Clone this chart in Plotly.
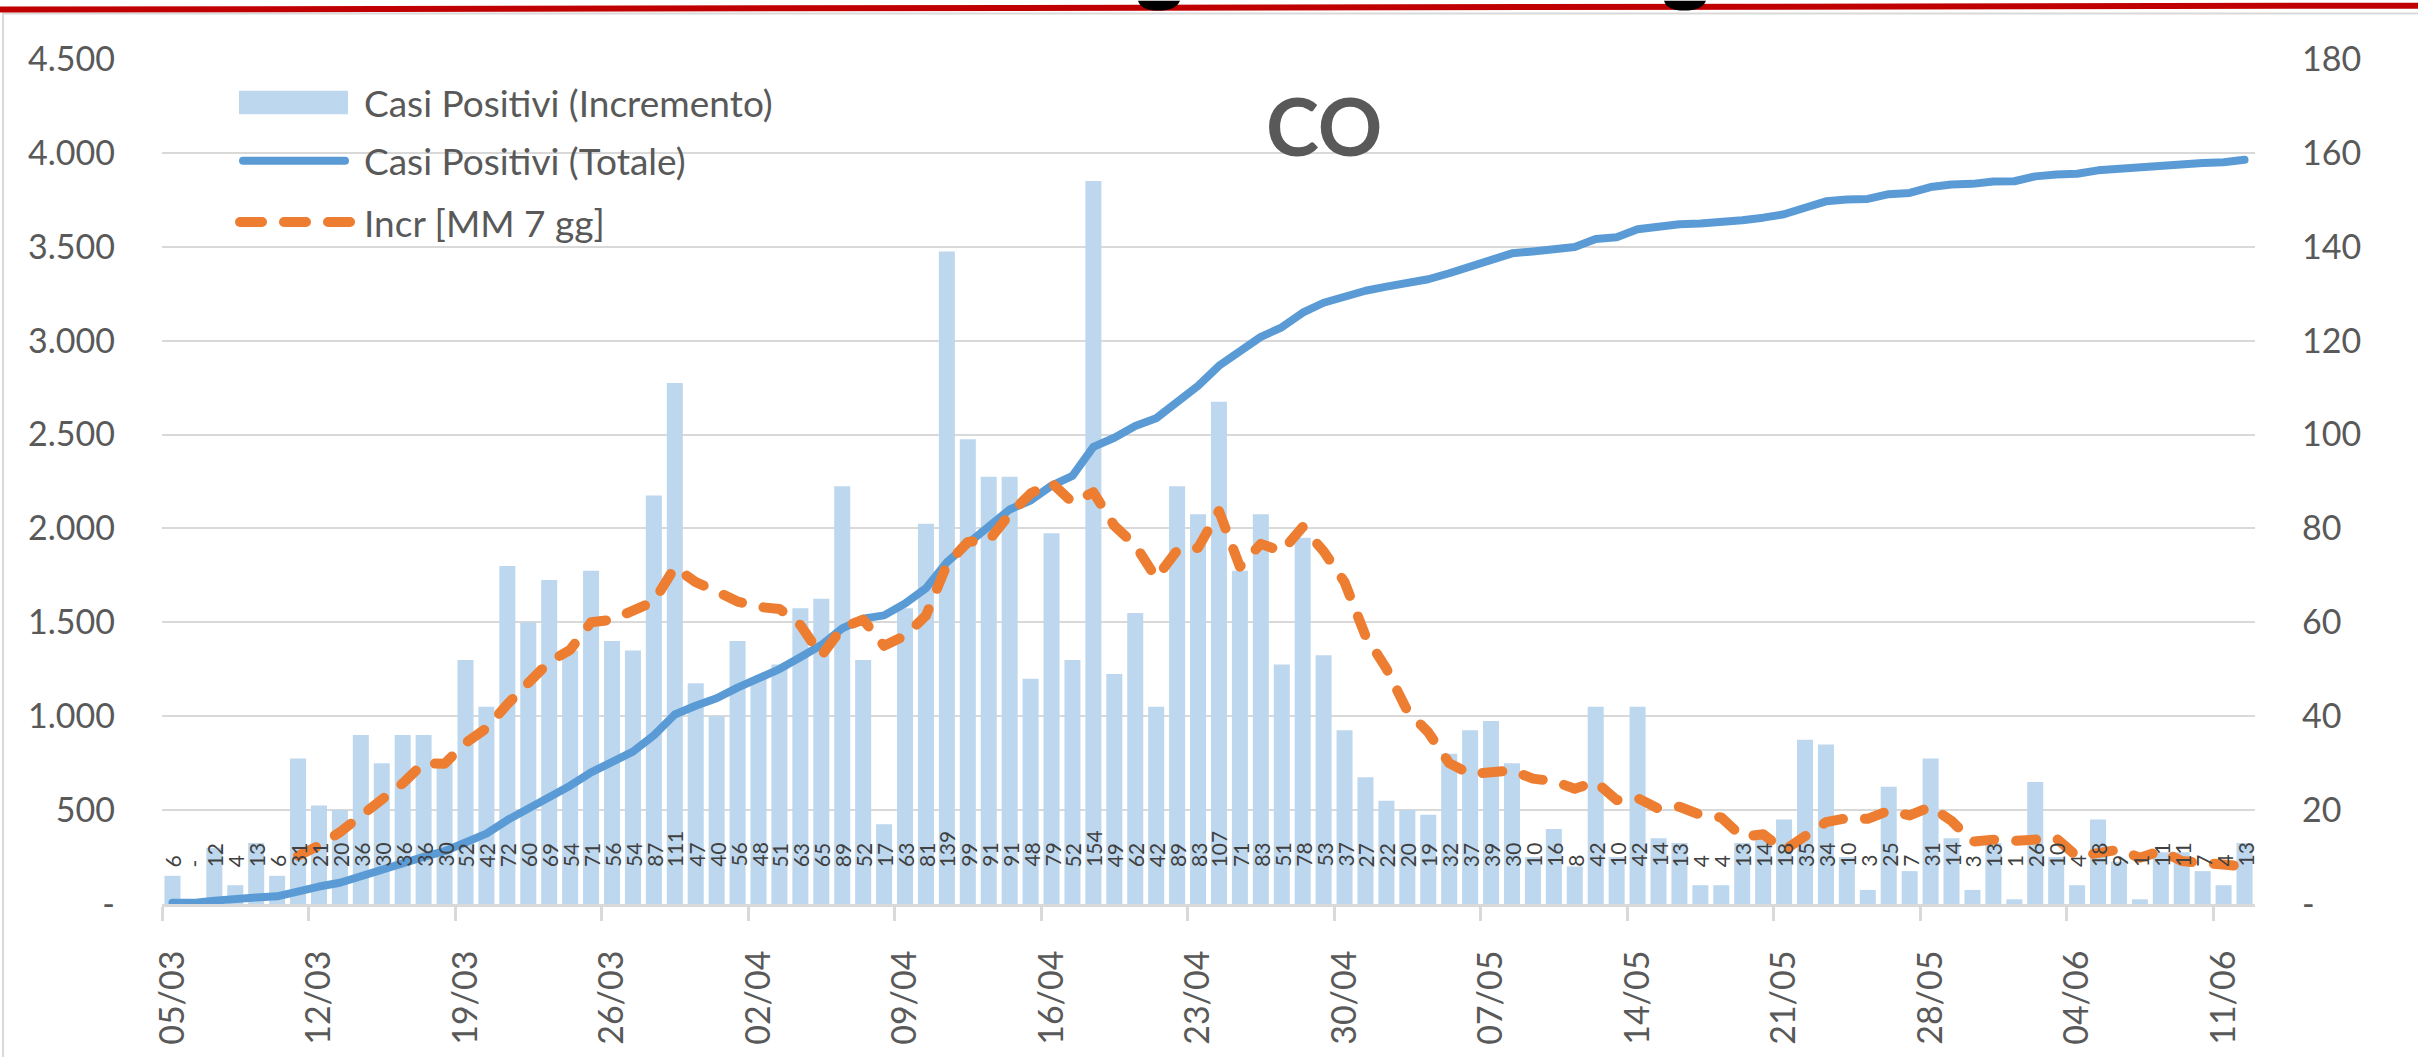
import pandas as pd
import plotly.graph_objects as go

# ---- data -------------------------------------------------------------
dates = pd.date_range("2020-03-05", periods=100, freq="D")
day_labels = [d.strftime("%d/%m") for d in dates]

# daily increase of positive cases (right axis)
incremento = [
    6, 0, 12, 4, 13, 6, 31, 21, 20, 36,
    30, 36, 36, 30, 52, 42, 72, 60, 69, 54,
    71, 56, 54, 87, 111, 47, 40, 56, 48, 51,
    63, 65, 89, 52, 17, 63, 81, 139, 99, 91,
    91, 48, 79, 52, 154, 49, 62, 42, 89, 83,
    107, 71, 83, 51, 78, 53, 37, 27, 22, 20,
    19, 32, 37, 39, 30, 10, 16, 8, 42, 10,
    42, 14, 13, 4, 4, 13, 14, 18, 35, 34,
    10, 3, 25, 7, 31, 14, 3, 13, 1, 26,
    10, 4, 18, 9, 1, 11, 11, 7, 4, 13,
]

# total positive cases (left axis)
totale = [
    6, 6, 18, 22, 35, 41, 72, 93, 113, 149,
    179, 215, 251, 281, 333, 375, 447, 507, 576, 630,
    701, 757, 811, 898, 1009, 1056, 1096, 1152, 1200, 1251,
    1314, 1379, 1468, 1520, 1537, 1600, 1681, 1820, 1919, 2010,
    2101, 2149, 2228, 2280, 2434, 2483, 2545, 2587, 2676, 2759,
    2866, 2937, 3020, 3071, 3149, 3202, 3239, 3266, 3288, 3308,
    3327, 3359, 3396, 3435, 3465, 3475, 3491, 3499, 3541, 3551,
    3593, 3607, 3620, 3624, 3628, 3641, 3655, 3673, 3708, 3742,
    3752, 3755, 3780, 3787, 3818, 3832, 3835, 3848, 3849, 3875,
    3885, 3889, 3907, 3916, 3917, 3928, 3939, 3946, 3950, 3963,
]

# 7-day moving average of the daily increase (right axis)
mm7 = [
    None, None, None, None, None, None, 10.29, 12.43, 15.29, 18.71,
    22.43, 25.71, 30.00, 29.86, 34.29, 37.43, 42.57, 46.86, 51.57, 54.14,
    60.00, 60.57, 62.29, 64.43, 71.71, 68.57, 66.57, 64.43, 63.29, 62.86,
    59.43, 52.86, 58.86, 60.57, 55.00, 57.14, 61.43, 72.29, 77.14, 77.43,
    83.00, 87.43, 89.71, 85.57, 87.71, 80.57, 76.43, 69.43, 75.29, 75.86,
    83.71, 71.86, 76.71, 75.14, 80.29, 75.14, 68.57, 57.14, 50.14, 41.14,
    36.57, 30.00, 27.71, 28.00, 28.43, 26.71, 26.14, 24.57, 26.00, 22.14,
    22.57, 20.29, 20.71, 19.00, 18.43, 14.29, 14.86, 11.43, 14.43, 17.43,
    18.29, 18.14, 19.86, 18.86, 20.71, 17.71, 13.29, 13.71, 13.43, 13.57,
    14.00, 10.14, 10.71, 11.57, 9.86, 11.29, 9.14, 8.71, 8.71, 8.00,
]

left_ticks = [0, 500, 1000, 1500, 2000, 2500, 3000, 3500, 4000, 4500]
left_ticktext = ["-", "500", "1.000", "1.500", "2.000", "2.500",
                 "3.000", "3.500", "4.000", "4.500"]
right_ticks = [0, 20, 40, 60, 80, 100, 120, 140, 160, 180]
right_ticktext = ["-", "20", "40", "60", "80", "100", "120", "140", "160", "180"]

series_names = ["Casi Positivi (Incremento)", "Casi Positivi (Totale)", "Incr [MM 7 gg]"]
chart_title = "CO"

# ---- styling ------------------------------------------------------------
W, H = 2418, 1057
ML, MR, MT, MB = 162, 163, 59, 143
PW, PH = W - ML - MR, H - MT - MB

FONT = "Lato"
TXT = "#595959"
BAR_C = "#BDD7EE"
TOT_C = "#5B9BD5"
MM_C = "#ED7D31"
GRID_C = "#D9D9D9"


def px(x):
    """canvas pixel x -> paper coordinate"""
    return (x - ML) / PW


def py(y):
    """canvas pixel y (from top) -> paper coordinate"""
    return (H - MB - y) / PH


x_idx = list(range(len(day_labels)))

fig = go.Figure()

# bars on the base (right-hand) axis, total on an overlay drawn above them,
# moving average on a further overlay drawn on top
fig.add_trace(go.Bar(
    x=x_idx, y=incremento, yaxis="y", name=series_names[0],
    marker=dict(color=BAR_C, line=dict(width=0)),
    hovertext=day_labels,
))
fig.add_trace(go.Scatter(
    x=x_idx, y=totale, yaxis="y2", name=series_names[1], mode="lines",
    line=dict(color=TOT_C, width=8),
    hovertext=day_labels,
))
fig.add_trace(go.Scatter(
    x=x_idx, y=mm7, yaxis="y3", name=series_names[2], mode="lines",
    line=dict(color=MM_C, width=10, dash="20px,22px"),
    hovertext=day_labels,
))

annotations = []
# value labels at the foot of each bar
for i, v in enumerate(incremento):
    annotations.append(dict(
        x=i, y=0, xref="x", yref="y", text="-" if v == 0 else str(v),
        textangle=-90, showarrow=False, xanchor="center", yanchor="bottom",
        yshift=35, font=dict(family=FONT, size=21, color="#404040"),
    ))

# chart title
annotations.append(dict(
    x=px(1324), y=py(126), xref="paper", yref="paper", text="<b>%s</b>" % chart_title,
    showarrow=False, xanchor="center", yanchor="middle",
    font=dict(family=FONT, size=80, color=TXT),
))

# legend texts
legend_rows = [103, 162, 224]
for name, row in zip(series_names, legend_rows):
    annotations.append(dict(
        x=px(362), y=py(row), xref="paper", yref="paper", text=name,
        showarrow=False, xanchor="left", yanchor="middle",
        font=dict(family=FONT, size=37, color=TXT),
    ))

shapes = [
    # outer frame
    dict(type="rect", xref="paper", yref="paper", x0=px(3), y0=py(13), x1=px(2440), y1=py(1080),
         line=dict(color=GRID_C, width=2), fillcolor="rgba(0,0,0,0)", layer="below"),
    # legend swatches
    dict(type="rect", xref="paper", yref="paper", x0=px(239), x1=px(348),
         y0=py(legend_rows[0] + 12), y1=py(legend_rows[0] - 12),
         line=dict(width=0), fillcolor=BAR_C),
    dict(type="line", xref="paper", yref="paper", x0=px(243), x1=px(345),
         y0=py(legend_rows[1]), y1=py(legend_rows[1]), line=dict(color=TOT_C, width=8)),
    dict(type="line", xref="paper", yref="paper", x0=px(240), x1=px(350),
         y0=py(legend_rows[2]), y1=py(legend_rows[2]),
         line=dict(color=MM_C, width=10, dash="22px,22px")),
    # page banner line across the top
    dict(type="line", xref="paper", yref="paper", x0=px(0), y0=py(9), x1=px(W), y1=py(5),
         line=dict(color="#C00000", width=6)),
    # descenders of the page heading poking below the banner
    dict(type="path", xref="paper", yref="paper",
         path="M %f,%f Q %f,%f %f,%f Q %f,%f %f,%f Z" % (
             px(1138), py(0), px(1141), py(10), px(1158), py(10),
             px(1176), py(10), px(1180), py(0)),
         fillcolor="#000000", line=dict(width=0)),
    dict(type="path", xref="paper", yref="paper",
         path="M %f,%f Q %f,%f %f,%f Q %f,%f %f,%f Z" % (
             px(1664), py(0), px(1667), py(10), px(1684), py(10),
             px(1702), py(10), px(1706), py(0)),
         fillcolor="#000000", line=dict(width=0)),
]

tick_font = dict(family=FONT, size=34, color=TXT)

fig.update_layout(
    width=W, height=H,
    margin=dict(l=ML, r=MR, t=MT, b=MB, pad=0),
    paper_bgcolor="white", plot_bgcolor="white",
    showlegend=False,
    bargap=0.235,
    font=dict(family=FONT, color=TXT),
    annotations=annotations,
    shapes=shapes,
    xaxis=dict(
        range=[-0.5, 99.5], tickmode="array",
        tickvals=x_idx[::7], ticktext=day_labels[::7],
        tickangle=-90, ticks="", showgrid=False, zeroline=False,
        showline=True, linecolor=GRID_C, linewidth=3,
        tickfont=tick_font,
        ticklabelstandoff=30,
        minor=dict(tick0=-0.5, dtick=7, ticks="outside", ticklen=14,
                   tickwidth=3, tickcolor=GRID_C, showgrid=False),
    ),
    # right-hand axis: daily increase
    yaxis=dict(
        range=[0, 180], side="right", tickmode="array",
        tickvals=right_ticks, ticktext=right_ticktext,
        showgrid=True, gridcolor=GRID_C, gridwidth=2, zeroline=False,
        ticks="", showline=False, tickfont=tick_font,
        ticklabelstandoff=46,
    ),
    # left-hand axis: total cases
    yaxis2=dict(
        range=[0, 4500], overlaying="y", side="left", tickmode="array",
        tickvals=left_ticks, ticktext=left_ticktext,
        showgrid=False, zeroline=False, ticks="", showline=False,
        tickfont=tick_font, ticklabelstandoff=46,
    ),
    # same scale as the right-hand axis, for the moving average
    yaxis3=dict(
        range=[0, 180], overlaying="y", side="right", visible=False,
        showgrid=False, zeroline=False,
    ),
)

round_caps = (
    "var gd=document.getElementById('{plot_id}');"
    "gd.querySelectorAll('.scatterlayer .js-line, .shapelayer path').forEach(function(p){"
    "p.style.strokeLinecap='round';p.style.strokeLinejoin='round';});"
)

fig.write_html("out.html", post_script=round_caps)
